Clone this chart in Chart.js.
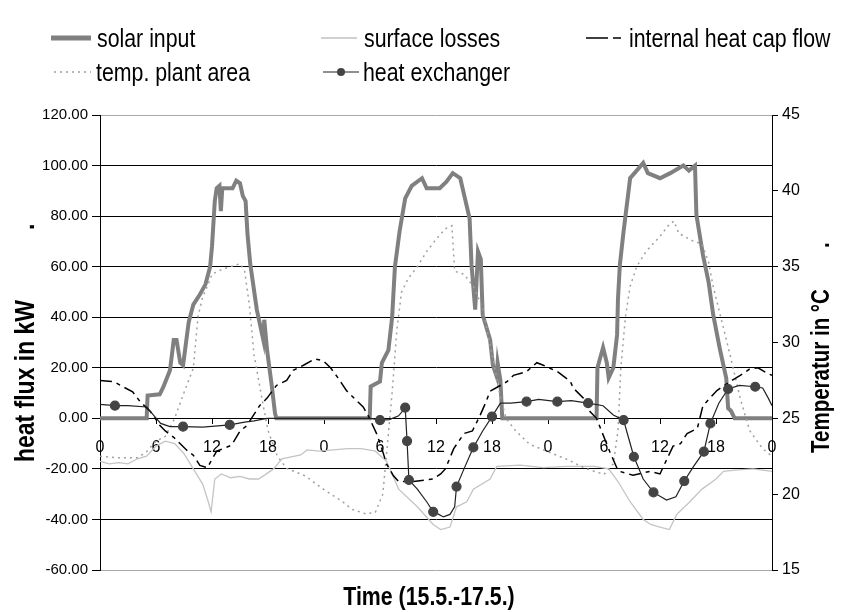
<!DOCTYPE html>
<html>
<head>
<meta charset="utf-8">
<script src="https://cdn.jsdelivr.net/npm/chart.js@4.4.0/dist/chart.umd.min.js"></script>
<style>
  body { margin: 0; background: #fff; }
  #wrap { position: relative; width: 842px; height: 612px; }
  #legend { position: absolute; left: 0; top: 0; width: 842px; height: 100px; font-family: 'Liberation Sans', Arial, sans-serif; font-size: 26px; color: #000; }
  .item { position: absolute; height: 30px; line-height: 30px; white-space: nowrap; }
  .item svg { position: absolute; left: 0; top: 0; }
  .item span { position: absolute; top: 0; transform: scaleX(0.82); transform-origin: 0 50%; }
</style>
</head>
<body>
<div id="wrap">
  <canvas id="fluxChart"></canvas>
  <div id="legend">
    <div class="item" style="left:51px;top:23px"><svg width="42" height="30"><line x1="0" y1="15" x2="40" y2="15" stroke="#808080" stroke-width="5"/></svg><span style="left:46px">solar input</span></div>
    <div class="item" style="left:321px;top:23px"><svg width="40" height="30"><line x1="0" y1="15" x2="36" y2="15" stroke="#c0c0c0" stroke-width="1.5"/></svg><span style="left:43px">surface losses</span></div>
    <div class="item" style="left:586px;top:23px"><svg width="42" height="30"><line x1="0" y1="15" x2="40" y2="15" stroke="#000" stroke-width="1.5" stroke-dasharray="22,5,8,5"/></svg><span style="left:43px">internal heat cap flow</span></div>
    <div class="item" style="left:54px;top:57px"><svg width="40" height="30"><line x1="0" y1="15" x2="37" y2="15" stroke="#a0a0a0" stroke-width="1.5" stroke-dasharray="2,4"/></svg><span style="left:42px">temp. plant area</span></div>
    <div class="item" style="left:323px;top:57px"><svg width="40" height="30"><line x1="0" y1="15" x2="36" y2="15" stroke="#222" stroke-width="1.2"/><circle cx="18" cy="15" r="4" fill="#444"/></svg><span style="left:40px">heat exchanger</span></div>
  </div>
</div>
<script>
const FONT = "'Liberation Sans', Arial, sans-serif";

// hours since 15.5. 0:00, heat flux in kW
const solarInput = [
  [0,0],[5.0,0],[5.1,9],[6.4,9.5],[6.8,12.5],[7.5,19],[7.9,31],[8.2,31],[8.6,22],[8.9,21],
  [9.5,38],[10,45],[10.7,49],[11.3,53],[11.8,60],[12,68],[12.3,86],[12.5,91],[12.8,92],[12.95,82],
  [13.1,91],[14.2,91],[14.6,94],[15,93],[15.3,88],[15.6,86],[15.8,73],[16.1,61],[16.8,43],[17.5,31],
  [17.6,39],[17.9,27],[18.4,13],[18.75,2],[18.9,0],
  [28.9,0],[29,12.6],[30,14.6],[30.2,22],[30.9,27],[31.3,40],[31.6,60],[32.1,74],[32.7,87],[33.4,92],
  [34.5,95],[35,91],[36.4,91],[37.1,93.5],[37.8,97],[38.6,95],[39.1,87],[39.6,79],[39.8,61],[40.2,43],
  [40.5,66],[40.8,63],[41,41],[41.8,31],[42.1,21],[42.5,16.6],[42.6,22],[42.9,15],[43.1,0],
  [53.2,0],[53.3,20],[53.9,28],[54.3,22],[54.5,16],[55,20],[55.4,33],[55.5,47.5],[55.7,60.7],[56.1,74],
  [56.4,83],[56.8,95],[57.5,98],[58.2,101],[58.7,97],[60,95],[61.1,97],[62.5,100],[63.1,98],[63.75,100],
  [63.9,80.5],[64.6,64.7],[65.2,54],[65.7,41],[66.4,27.7],[67.1,15.8],[67.3,4],[67.6,3],[68,0],[72,0]
];

const surfaceLosses = [
  [0,-17],[1,-18],[2,-17.5],[3,-18],[4,-16],[5,-15],[6,-11],[7,-9],[8,-10],[9,-14],
  [10,-20],[11,-26],[11.6,-33],[11.9,-37],[12.3,-24],[13,-22],[14,-23.5],[15,-23],[16,-24],[17,-24],
  [18.6,-20],[19.5,-16],[21.5,-14.5],[22.2,-12.5],[23.5,-13],[25,-12.5],[26.5,-12],[28,-12],[29.5,-13],[30.7,-17],
  [32,-28],[34,-35],[35.7,-42],[36.5,-44],[37.5,-43],[38.2,-35],[39.3,-33],[40,-28],[41.8,-24],[42.5,-19],
  [45,-18.5],[47.5,-19.5],[50,-19],[53,-19],[54.5,-20],[55.5,-25],[56.8,-33],[58.2,-40],[59,-42],[60,-43],
  [61,-44],[61.8,-38],[63.2,-33],[64.5,-28],[66,-24],[66.8,-21],[68,-20.5],[70,-20],[72,-21]
];

const internalHeatCapFlow = [
  [0,15],[1.5,14.5],[2.2,13],[3.5,10.5],[4.3,6.6],[5.4,2.7],[6.4,-2.7],[7,-5],[7.9,-7.5],[9.3,-12.6],
  [10,-14.6],[10.7,-18.6],[11.5,-19.5],[12.5,-13],[14.1,-10.6],[15,-5],[15.7,-3],[17.1,5],[17.9,8],[18.9,13],
  [20,15],[20.7,19],[21.8,21],[23,23.5],[23.9,22.8],[24.7,20],[25.5,16],[26.4,11],[27.5,7],[28.2,4.5],
  [28.8,0.6],[29.7,-6.6],[30.2,-12],[30.7,-18],[31.4,-22.5],[32,-25],[33.6,-25],[35.7,-24],[36.5,-22],[37,-20],
  [37.9,-12],[39,-6],[39.9,-5],[40.7,1],[41.3,6],[41.8,10.7],[43.6,14.5],[44.3,17],[45.7,18.5],[46.8,22],
  [47.5,21],[49,18.5],[50.4,14.6],[50.7,12],[51.8,8],[52.5,2.7],[53.2,0],[54.6,-13],[55.4,-19.8],[55.7,-21],
  [57.1,-22.5],[58.9,-21],[60,-22],[60.5,-18],[61.4,-11],[62.2,-10],[62.9,-6],[64,-4],[64.6,5],[66.1,11],
  [67.5,14.5],[68.6,17],[69.6,19.5],[70.5,20],[71.4,18],[72,17]
];

// temperature in °C
const tempPlantArea = [
  [0,22.5],[2,22.4],[4,22.4],[5,22.8],[6,23.5],[7,23.8],[8,25],[9,26.7],[10,28.3],[10.5,31.7],
  [11,33],[11.5,33.7],[12,34.5],[13,34.8],[14,35],[15,35.2],[15.5,34.7],[16,32.5],[16.5,29.2],[17,27.5],
  [17.5,25.8],[18,24.2],[19,22.5],[20,21.7],[22,21.2],[24,20.3],[26,19.5],[27,19],[28.5,18.7],[29.5,18.8],
  [30.3,20],[30.8,23.3],[31.3,26.7],[31.8,30.8],[32.3,33.3],[33,34.2],[34,35],[35,36],[36,36.8],[37,37.5],
  [37.7,37.7],[38,34.7],[39,34.5],[40,33.7],[41,32.3],[42,29.2],[42.8,26.7],[43.5,25],[44.5,24.2],[46,23.3],
  [48,22.8],[50,22.3],[52,21.7],[54,21.3],[55,22],[55.5,24.2],[55.8,28.3],[56.3,31.7],[56.8,33.7],[57.5,35],
  [58.5,36],[60,37],[61,37.8],[61.5,38],[62,37.2],[63.5,36.7],[64.5,36.5],[65.2,35.3],[65.7,33.7],[66.5,31.7],
  [67.5,29.2],[68.6,26.3],[69.6,24.2],[71,23],[72,22.5]
];

const heatExchanger = [
  [0,5.5],[1.6,5],[3,5],[5,4.5],[5.8,1],[6.5,-2],[7.5,-3.3],[8.9,-3.3],[11,-3.5],[13.9,-2.6],
  [15.5,-1.5],[16.5,-1],[17.9,0],[24,0],[29,0],[30,-0.7],[31,-0.5],[32,1],[32.7,4.2],[32.9,-9],
  [33.1,-24.4],[34,-28],[35,-33],[35.7,-37],[36.3,-38],[36.8,-39],[37.5,-38],[38,-35],[38.2,-27],[39,-20],
  [40,-11.5],[41,-5],[42,0.7],[42.9,6],[44,6],[45.7,6.6],[47,7.5],[49,6.6],[50.5,7],[52.3,6],
  [53.9,5],[55,1.3],[56.1,-0.7],[56.5,-6],[57.2,-15.2],[58.2,-24],[59.3,-29.3],[60.7,-32.3],[61.7,-31],[62.6,-24.8],
  [63.6,-19],[64.7,-13.2],[65.4,-2],[66.3,6],[67.3,11.6],[68.5,13],[70.2,12.5],[71,12],[71.6,8],[72,5]
];
const heatExchangerMarks = [1.6, 8.9, 13.9, 30, 32.7, 32.9, 33.1, 35.7, 38.2, 40, 42, 45.7, 49, 52.3,
  56.1, 57.2, 59.3, 62.6, 64.7, 65.4, 67.3, 70.2];

const fluxTicks = [-60, -40, -20, 0, 20, 40, 60, 80, 100, 120];
const tempTicks = [15, 20, 25, 30, 35, 40, 45];

// axis titles in a condensed look (Arial Narrow style)
function narrowText(ctx, text, x, y, angle, align, size) {
  ctx.save();
  ctx.translate(x, y);
  ctx.rotate(angle);
  ctx.scale(0.82, 1);
  ctx.font = "bold " + size + "px " + FONT;
  ctx.fillStyle = "#000";
  ctx.textAlign = align;
  ctx.textBaseline = "middle";
  ctx.fillText(text, 0, 0);
  ctx.restore();
}

const axisTitles = {
  id: "axisTitles",
  afterDraw(chart) {
    const c = chart.ctx;
    narrowText(c, "heat flux in kW", 26, 462, -Math.PI / 2, "left", 28);
    narrowText(c, ".", 26, 230, -Math.PI / 2, "left", 28);
    narrowText(c, "Temperatur in °C", 822, 453, -Math.PI / 2, "left", 25);
    narrowText(c, ".", 822, 248, -Math.PI / 2, "left", 25);
    narrowText(c, "Time (15.5.-17.5.)", 429, 598, 0, "center", 26);
  }
};

const ctx = document.getElementById("fluxChart").getContext("2d");
new Chart(ctx, {
  type: "line",
  data: {
    datasets: [
      {
        label: "heat exchanger",
        data: heatExchanger,
        yAxisID: "y",
        borderColor: "#222",
        borderWidth: 1.2,
        pointRadius: c => heatExchangerMarks.includes(c.raw[0]) ? 4.5 : 0,
        pointBackgroundColor: "#444",
        pointBorderColor: "#444",
        order: 1
      },
      {
        label: "internal heat cap flow",
        data: internalHeatCapFlow,
        yAxisID: "y",
        borderColor: "#000",
        borderWidth: 1.5,
        borderDash: [12, 5, 4, 5],
        pointRadius: 0,
        order: 2
      },
      {
        label: "temp. plant area",
        data: tempPlantArea,
        yAxisID: "y2",
        borderColor: "#a0a0a0",
        borderWidth: 1.5,
        borderDash: [2, 4],
        pointRadius: 0,
        order: 3
      },
      {
        label: "surface losses",
        data: surfaceLosses,
        yAxisID: "y",
        borderColor: "#c4c4c4",
        borderWidth: 1.3,
        pointRadius: 0,
        order: 4
      },
      {
        label: "solar input",
        data: solarInput,
        yAxisID: "y",
        borderColor: "#808080",
        borderWidth: 4,
        pointRadius: 0,
        order: 5
      }
    ]
  },
  options: {
    responsive: true,
    maintainAspectRatio: false,
    animation: false,
    layout: { padding: { top: 115, left: 0, right: 0, bottom: 42 } },
    plugins: {
      legend: { display: false },
      tooltip: { enabled: false }
    },
    scales: {
      x: {
        type: "linear",
        position: { y: 0 },
        min: 0,
        max: 72,
        ticks: {
          stepSize: 6,
          autoSkip: false,
          maxRotation: 0,
          padding: 15,
          color: "#000",
          font: { family: FONT, size: 16 },
          callback: v => v % 24
        },
        grid: { drawOnChartArea: false, drawTicks: true, tickLength: 5, color: "#000" },
        border: { display: true, color: "#000" }
      },
      y: {
        position: "left",
        min: -60,
        max: 120,
        afterBuildTicks: s => { s.ticks = fluxTicks.map(v => ({ value: v })); },
        afterFit: s => { s.width = 100; },
        ticks: {
          padding: 4,
          color: "#000",
          font: { family: FONT, size: 15 },
          callback: v => v.toFixed(2)
        },
        grid: {
          color: c => (c.tick && (c.tick.value === 120 || c.tick.value === -60)) ? "#a8a8a8" : "#000",
          tickColor: "#000",
          tickLength: 8
        },
        border: { display: true, color: "#000" }
      },
      y2: {
        position: "right",
        min: 15,
        max: 45,
        afterBuildTicks: s => { s.ticks = tempTicks.map(v => ({ value: v })); },
        afterFit: s => { s.width = 70; },
        ticks: {
          padding: 4,
          color: "#000",
          font: { family: FONT, size: 16 }
        },
        grid: { drawOnChartArea: false, tickLength: 6, color: "#000" },
        border: { display: true, color: "#000" }
      }
    }
  },
  plugins: [axisTitles]
});
</script>
</body>
</html>
